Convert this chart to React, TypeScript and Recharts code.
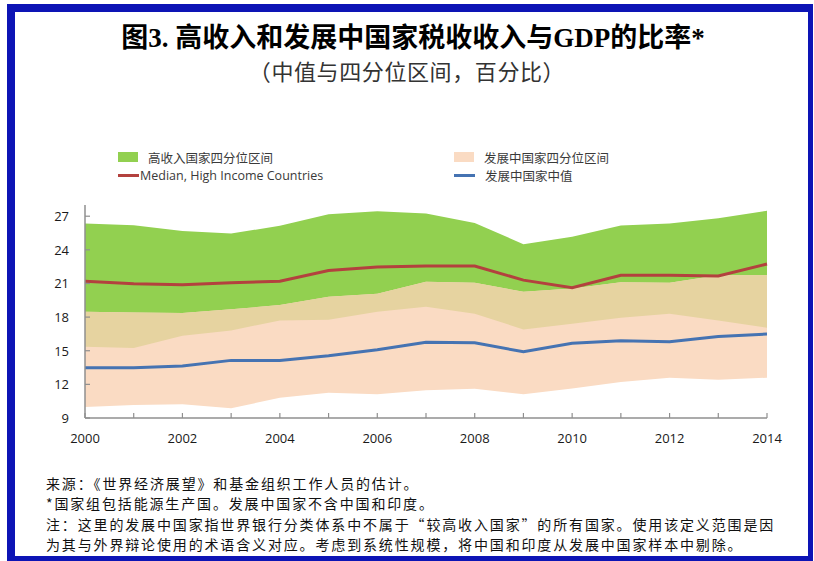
import { ComposedChart, Area, Line, XAxis, YAxis } from "recharts"

// years and values (percent of GDP)
const years = [2000, 2001, 2002, 2003, 2004, 2005, 2006, 2007, 2008, 2009, 2010, 2011, 2012, 2013, 2014]
const hiQ3 = [26.35, 26.2, 25.67, 25.46, 26.14, 27.18, 27.45, 27.24, 26.4, 24.5, 25.16, 26.17, 26.35, 26.82, 27.48]
const hiMedian = [21.2, 20.97, 20.88, 21.06, 21.2, 22.16, 22.46, 22.55, 22.55, 21.3, 20.62, 21.74, 21.74, 21.66, 22.73]
const hiQ1 = [15.36, 15.24, 16.34, 16.81, 17.7, 17.76, 18.47, 18.92, 18.3, 16.9, 17.4, 17.94, 18.3, 17.7, 17.05]
const devQ3 = [18.47, 18.42, 18.36, 18.69, 19.07, 19.81, 20.08, 21.15, 21.06, 20.26, 20.55, 21.12, 21.06, 21.74, 21.74]
const devMedian = [13.49, 13.49, 13.63, 14.14, 14.14, 14.55, 15.09, 15.75, 15.71, 14.91, 15.66, 15.89, 15.8, 16.28, 16.49]
const devQ1 = [9.98, 10.16, 10.22, 9.86, 10.81, 11.26, 11.11, 11.48, 11.61, 11.11, 11.64, 12.21, 12.59, 12.42, 12.59]

const xLabels = [2000, 2002, 2004, 2006, 2008, 2010, 2012, 2014]
const yTicks = [9, 12, 15, 18, 21, 24, 27]

const title = "图3. 高收入和发展中国家税收收入与GDP的比率*"
const subtitle = "（中值与四分位区间，百分比）"
const notes = [
  "来源：《世界经济展望》和基金组织工作人员的估计。",
  "*国家组包括能源生产国。发展中国家不含中国和印度。",
  "注：这里的发展中国家指世界银行分类体系中不属于“较高收入国家”的所有国家。使用该定义范围是因",
  "为其与外界辩论使用的术语含义对应。考虑到系统性规模，将中国和印度从发展中国家样本中剔除。",
]

const GREEN = "#92D050"
const PEACH = "#FADBC3"
const TAN = "#E6D3A0"
const RED = "#B3413E"
const BLUE = "#4573B2"
const AXIS = "#8f8f8f"

const data = years.map((year, i) => ({
  year,
  hiBand: [hiQ1[i], hiQ3[i]],
  devBand: [devQ1[i], devQ3[i]],
  overlap: [Math.max(hiQ1[i], devQ1[i]), Math.min(hiQ3[i], devQ3[i])],
  hiMedian: hiMedian[i],
  devMedian: devMedian[i],
}))

const legendItems = [
  { label: "高收入国家四分位区间", kind: "box", color: GREEN, x: 118, y: 157 },
  { label: "发展中国家四分位区间", kind: "box", color: PEACH, x: 454, y: 157 },
  { label: "Median, High Income Countries", kind: "line", color: RED, x: 118, y: 175 },
  { label: "发展中国家中值", kind: "line", color: BLUE, x: 454, y: 175 },
]

const tickFont = { fontFamily: "'Open Sans', 'Noto Sans', sans-serif", fontSize: 13, fill: "#1a1a1a" }

function XTick(props: any) {
  const { x, y, payload } = props
  const show = xLabels.includes(payload.value)
  return (
    <g>
      <line x1={x} y1={y} x2={x} y2={y - 5} stroke={AXIS} strokeWidth={1.2} />
      {show && (
        <text x={x} y={y + 25} textAnchor="middle" {...tickFont}>
          {payload.value}
        </text>
      )}
    </g>
  )
}

function YTick(props: any) {
  const { x, y, payload } = props
  return (
    <g>
      <line x1={x} y1={y} x2={x + 5} y2={y} stroke={AXIS} strokeWidth={1.2} />
      <text x={x - 16} y={y + 5} textAnchor="end" {...tickFont}>
        {payload.value}
      </text>
    </g>
  )
}

export default function App() {
  return (
    <div
      style={{
        position: "absolute",
        left: 0,
        top: 0,
        width: 814,
        height: 561,
        background: "#fff",
        overflow: "hidden",
      }}
    >
      {/* blue frame */}
      <div
        style={{
          position: "absolute",
          left: 7,
          top: 4,
          width: 806 - 13,
          height: 557 - 13,
          borderStyle: "solid",
          borderColor: "#0D14B5",
          borderWidth: "8px 5px 5px 8px",
        }}
      />

      <div
        style={{
          position: "absolute",
          left: 0,
          top: 23,
          width: 826,
          textAlign: "center",
          fontFamily: "'Liberation Serif', 'Noto Sans CJK SC', serif",
          fontWeight: 700,
          fontSize: 27,
          lineHeight: "30px",
          color: "#000",
        }}
      >
        {title}
      </div>
      <div
        style={{
          position: "absolute",
          left: 0,
          top: 57,
          width: 814,
          textAlign: "center",
          fontFamily: "'Noto Sans CJK SC', sans-serif",
          fontSize: 22,
          letterSpacing: 0.6,
          lineHeight: "26px",
          color: "#333",
        }}
      >
        {subtitle}
      </div>

      {/* legend */}
      {legendItems.map((item) => (
        <div
          key={item.label}
          style={{
            position: "absolute",
            left: item.x,
            top: item.y - 9,
            height: 18,
            display: "flex",
            alignItems: "center",
            fontFamily: "'Open Sans', 'Noto Sans CJK SC', sans-serif",
            fontSize: 12.5,
            color: "#3a3a3a",
          }}
        >
          {item.kind === "box" ? (
            <span style={{ width: 20, height: 10, background: item.color, marginRight: 10 }} />
          ) : (
            <span style={{ width: 21, height: 3, background: item.color, marginRight: item.x > 300 ? 10 : 1 }} />
          )}
          <span>{item.label}</span>
        </div>
      ))}

      <div style={{ position: "absolute", left: 0, top: 0 }}>
        <ComposedChart
          width={814}
          height={460}
          data={data}
          margin={{ top: 205, right: 47, bottom: 12, left: 55 }}
        >
          <XAxis
            dataKey="year"
            type="number"
            domain={[2000, 2014]}
            ticks={years}
            interval={0}
            height={30}
            tickSize={0}
            tickMargin={0}
            tickLine={false}
            axisLine={{ stroke: AXIS, strokeWidth: 1.5 }}
            tick={<XTick />}
          />
          <YAxis
            type="number"
            domain={[9, 28]}
            ticks={yTicks}
            interval={0}
            width={30}
            tickSize={0}
            tickMargin={0}
            tickLine={false}
            axisLine={{ stroke: AXIS, strokeWidth: 1.5 }}
            tick={<YTick />}
          />
          <Area
            type="linear"
            dataKey="hiBand"
            fill={GREEN}
            fillOpacity={1}
            stroke="none"
            isAnimationActive={false}
          />
          <Area
            type="linear"
            dataKey="devBand"
            fill={PEACH}
            fillOpacity={1}
            stroke="none"
            isAnimationActive={false}
          />
          <Area
            type="linear"
            dataKey="overlap"
            fill={TAN}
            fillOpacity={1}
            stroke="none"
            isAnimationActive={false}
          />
          <Line
            type="linear"
            dataKey="hiMedian"
            stroke={RED}
            strokeWidth={3}
            dot={false}
            isAnimationActive={false}
          />
          <Line
            type="linear"
            dataKey="devMedian"
            stroke={BLUE}
            strokeWidth={3}
            dot={false}
            isAnimationActive={false}
          />
        </ComposedChart>
      </div>

      {/* notes */}
      {notes.map((line, i) => (
        <div
          key={i}
          style={{
            position: "absolute",
            left: 46,
            top: 473 + i * 20.4,
            fontFamily: "'Noto Sans CJK SC', sans-serif",
            fontSize: 14,
            letterSpacing: 1.85,
            lineHeight: "20px",
            color: "#111",
            whiteSpace: "nowrap",
          }}
        >
          {line}
        </div>
      ))}
    </div>
  )
}
